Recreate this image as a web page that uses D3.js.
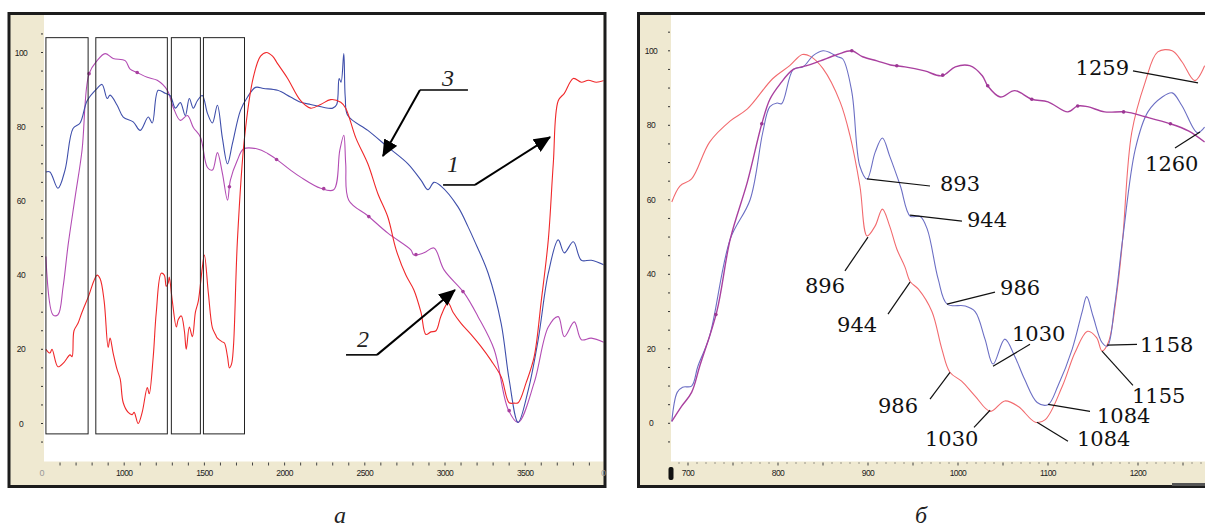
<!DOCTYPE html>
<html>
<head>
<meta charset="utf-8">
<script src="https://cdn.jsdelivr.net/npm/d3@7"></script>
<style>
body { margin: 0; background: #fff; }
svg { display: block; }
</style>
</head>
<body>
<svg id="chart" width="1205" height="529"></svg>
<script>
// ---- panel a: full spectra, wavenumber vs transmission ----
const curve1a = [[512,20],[537,19],[550,20],[587,15.3],[625,16.5],[662,18.5],[675,18],[687,25],[712,27],[737,30],[775,34],[831,40],[850,39],[875,33],[900,20.5],[912,23],[931,19],[956,14.5],[975,12],[994,5.6],[1025,3],[1050,2.4],[1062,3],[1087,0],[1112,3],[1144,9.7],[1156,8],[1181,18],[1200,30],[1231,40.5],[1250,40],[1262,37],[1275,38],[1281,39.5],[1300,33],[1325,26],[1337,28],[1356,29],[1375,25],[1387,20],[1406,26],[1425,23.4],[1444,30],[1462,33],[1487,42],[1500,45.4],[1525,35],[1550,25.8],[1569,24],[1581,23],[1612,22],[1625,21.7],[1644,18],[1656,15],[1669,16],[1681,20.7],[1706,49.5],[1750,77],[1806,93.5],[1850,99],[1887,100],[1925,99],[1956,97],[2019,93],[2100,87],[2162,85],[2225,86],[2287,87.3],[2350,86.6],[2381,85],[2444,77],[2519,70],[2581,62],[2644,55.6],[2694,47],[2756,40],[2806,36],[2850,30],[2881,24],[2912,24.7],[2944,25],[2975,29],[3019,32.5],[3050,30],[3100,27],[3162,24],[3225,20.7],[3287,17],[3350,12.6],[3400,5.6],[3431,5.5],[3456,5.6],[3506,11],[3556,18],[3600,33],[3644,49.5],[3675,70],[3706,87],[3744,89],[3800,93],[3850,92],[3894,92.5],[3944,92],[3994,92.5]];

const curve2a = [[512,45],[556,29.3],[587,29.3],[619,36.8],[650,48],[694,61],[737,73.6],[781,94.3],[831,97.8],[881,99.7],[931,98.4],[1006,97.8],[1037,95.5],[1081,94.6],[1144,93.3],[1206,92.5],[1269,89.8],[1306,85.2],[1350,81.7],[1394,83],[1431,79.8],[1475,77.2],[1519,69],[1550,68.3],[1581,73],[1612,67.5],[1644,60.2],[1662,65.6],[1706,71],[1744,74],[1831,74],[1894,72.8],[1956,71],[2037,68.3],[2100,66.4],[2225,63.4],[2306,63],[2344,73.6],[2369,77.7],[2381,70],[2400,60.2],[2519,56],[2644,51.3],[2787,46.8],[2806,45.4],[2869,46],[2931,47.3],[2994,41.4],[3119,35.2],[3206,28.8],[3306,20],[3394,3.8],[3456,0.3],[3556,11],[3644,26],[3706,28.8],[3744,23.4],[3806,27.4],[3850,22.6],[3912,23],[3994,21.8]];

const curve3a = [[512,67.8],[537,67.8],[587,63.4],[631,68.3],[681,79.5],[725,81],[769,87],[831,90.3],[862,91.4],[894,87.6],[912,88.5],[956,85.8],[994,82.6],[1056,81.3],[1100,79],[1150,82.6],[1175,81],[1212,89.8],[1256,89],[1287,88.4],[1319,85],[1350,86.5],[1381,83],[1406,87.6],[1431,85],[1456,87],[1487,88.4],[1519,83.6],[1550,81],[1581,85.8],[1612,77],[1644,70],[1675,75.5],[1725,84.4],[1769,88],[1819,90.6],[1869,90.3],[1956,89.8],[2037,88],[2100,86.6],[2162,86],[2300,85],[2325,86],[2340,93],[2352,92],[2369,99.7],[2378,88],[2394,83],[2519,79],[2644,74.5],[2769,70],[2850,65.6],[2894,63],[2931,65],[2975,64],[3081,58.4],[3144,53],[3181,49.5],[3269,40.5],[3350,27],[3400,11.8],[3456,0.3],[3519,9],[3581,22.6],[3644,40.5],[3706,49.5],[3744,46],[3800,49],[3850,44],[3912,44],[3994,42.7]];

const markers2a = [781, 1081, 1656, 1950, 2244, 2525, 2819, 3112, 3400];
const boxesA = [[512, 775], [823, 1269], [1294, 1475], [1494, 1750]];
const boxRangeA = [-2.8, 104];
const xTickLabelsA = [1000, 1500, 2000, 2500, 3000, 3500];
const yTickLabels = [0, 20, 40, 60, 80, 100];

// callouts for panel a: text, text position, shelf, arrow tip (data units)
const calloutsA = [
  { t: "3", tx: 3019, ty: 91, s: [2844, 3143, 89.9], from: [2844, 89.9], tip: [2613, 72.1] },
  { t: "1", tx: 3050, ty: 67.8, s: [2988, 3187, 64.3], from: [3187, 64.3], tip: [3655, 77.2] },
  { t: "2", tx: 2489, ty: 20.6, s: [2383, 2576, 18.5], from: [2576, 18.5], tip: [3062, 36] }
];

// ---- panel b: 680-1275 detail ----
const curve1b = [[682,59.4],[691,63.7],[704,65.6],[724,75.5],[747,81.2],[766,84.4],[794,92.5],[813,96],[827,99],[836,98.5],[850,95.2],[869,86.3],[880,77.2],[891,63.7],[899,50.3],[908,53],[916,57.5],[924,53],[932,46.8],[941,42],[947,38],[956,36],[971,30],[982,20],[991,13.7],[1004,11.3],[1019,7.3],[1036,3.2],[1052,6],[1067,4.5],[1086,0.3],[1097,1],[1116,10],[1130,19],[1144,24.7],[1154,23],[1160,19.4],[1167,21.7],[1177,36],[1183,49.5],[1193,78],[1208,91.6],[1222,99.7],[1238,100],[1249,97],[1263,92],[1274,96]];

const curve2b = [[682,0.5],[693,4.6],[704,8.3],[713,15.3],[732,30],[747,49.5],[766,64.8],[782,80.4],[791,87],[802,91],[817,95],[832,96],[847,97.3],[866,99],[882,100],[894,98.4],[910,97.3],[925,96.2],[941,95.7],[963,94.6],[982,93.3],[997,95.7],[1013,96],[1027,93.3],[1033,90.6],[1047,87.6],[1063,89.3],[1082,87],[1100,86.3],[1122,83.6],[1133,85.2],[1144,85],[1163,83.6],[1186,83.6],[1208,82.3],[1236,80.4],[1256,78.5],[1274,75.5]];

const curve3b = [[682,0.5],[688,8.3],[694,9.7],[704,10],[711,15.3],[724,23.4],[747,49.5],[769,60],[783,78],[791,85],[799,86],[804,85.8],[817,95],[828,95.7],[839,98.7],[850,100],[858,99.5],[866,98.4],[872,97.8],[882,89],[891,69],[899,65.6],[908,72.8],[916,76.6],[924,71.8],[936,63.7],[947,55.6],[958,55.5],[966,52],[978,38.7],[988,32],[1008,31.5],[1019,30],[1030,22.6],[1039,15.9],[1052,22.6],[1063,18],[1074,11.8],[1088,5.6],[1100,5],[1111,10],[1127,20],[1138,30],[1143,34],[1150,28.8],[1160,21.7],[1166,20.7],[1174,31.5],[1183,49.5],[1197,73.6],[1211,83.6],[1227,87.6],[1238,88.7],[1249,85.2],[1266,78],[1274,79.5]];

const markers2b = [731, 782, 882, 932, 983, 1033, 1082, 1133, 1184, 1236];
const xTickLabelsB = [700, 800, 900, 1000, 1100, 1200];

// peak labels: point on curve, leader end, text anchor (data units)
const peaksB = [
  { t: "1259", p: [1266.7, 91.4], l: [1194.4, 94.6], tp: [1190, 93.5], a: "end" },
  { t: "1260", p: [1268.9, 78.2], l: [1241.1, 73.9], tp: [1207.8, 67.7], a: "start" },
  { t: "893", p: [898.9, 65.6], l: [968.9, 63.7], tp: [980, 62.4], a: "start" },
  { t: "944", p: [946.7, 55.9], l: [1004.4, 54.3], tp: [1010, 52.7], a: "start" },
  { t: "896", p: [900, 50], l: [874.4, 40.9], tp: [830, 34.9], a: "start" },
  { t: "944", p: [946.7, 37.9], l: [922.2, 29.3], tp: [865.6, 24.5], a: "start" },
  { t: "986", p: [987.8, 32], l: [1041.1, 35.2], tp: [1046.7, 34.4], a: "start" },
  { t: "1030", p: [1038.9, 15.3], l: [1080, 21.2], tp: [1060, 22], a: "start" },
  { t: "1158", p: [1165.6, 21], l: [1198.9, 21.2], tp: [1202.2, 19.1], a: "start" },
  { t: "1155", p: [1160, 19.4], l: [1194.4, 10.2], tp: [1193.3, 5.4], a: "start" },
  { t: "1084", p: [1100, 5.1], l: [1146.7, 3.2], tp: [1154.4, 0], a: "start" },
  { t: "1084", p: [1087.8, 0.3], l: [1122.2, -4.8], tp: [1132.2, -6.2], a: "start" },
  { t: "1030", p: [1035.6, 3.5], l: [1017.8, -1.1], tp: [963.3, -6.2], a: "start" },
  { t: "986", p: [991.1, 13.7], l: [968.9, 6.5], tp: [911.1, 2.7], a: "start" }
];

const beige = "#efe9d1";
const svg = d3.select("#chart");

// helper: y on a curve for a given x (for the little dots on curve 2)
function valueAt(data, x) {
  const i = d3.bisector(d => d[0]).left(data, x);
  if (i <= 0) return data[0][1];
  if (i >= data.length) return data[data.length - 1][1];
  const a = data[i - 1], b = data[i];
  return a[1] + (b[1] - a[1]) * (x - a[0]) / (b[0] - a[0]);
}

// arrowhead marker
svg.append("defs").append("marker")
  .attr("id", "head")
  .attr("markerUnits", "userSpaceOnUse")
  .attr("viewBox", "0 0 16 14")
  .attr("refX", 15).attr("refY", 7)
  .attr("markerWidth", 17).attr("markerHeight", 15)
  .attr("orient", "auto")
  .append("path").attr("d", "M0,0 L16,7 L0,14 Z").attr("fill", "#000");

function panel(opt) {
  const g = svg.append("g");
  const f = opt.frame;
  // beige background + white plot area
  g.append("rect").attr("x", f[0]).attr("y", f[1]).attr("width", f[2] - f[0]).attr("height", f[3] - f[1]).attr("fill", beige);
  g.append("rect").attr("x", opt.plot[0]).attr("y", opt.plot[1])
    .attr("width", opt.plot[2] - opt.plot[0]).attr("height", opt.plot[3] - opt.plot[1]).attr("fill", "#fff");

  const clipId = "clip" + opt.id;
  svg.select("defs").append("clipPath").attr("id", clipId)
    .append("rect").attr("x", opt.plot[0]).attr("y", opt.plot[1])
    .attr("width", opt.plot[2] - opt.plot[0]).attr("height", opt.plot[3] - opt.plot[1]);

  const x = opt.x, y = opt.y;

  // y ticks every 5, labels every 20
  const yt = g.append("g");
  yt.selectAll("line").data(d3.range(-5, 106, 5)).enter().append("line")
    .attr("x1", opt.plot[0] - 3).attr("x2", opt.plot[0] - 1)
    .attr("y1", d => y(d)).attr("y2", d => y(d))
    .attr("stroke", "#333").attr("stroke-width", 1);
  yt.selectAll("text").data(yTickLabels).enter().append("text")
    .attr("x", opt.ylabX).attr("y", d => y(d) + 3)
    .attr("text-anchor", "middle")
    .attr("font-family", "Liberation Sans, Arial, sans-serif")
    .attr("font-size", 8.5).attr("letter-spacing", -0.6)
    .attr("fill", "#222").text(d => d);

  // x ticks
  const xt = g.append("g");
  xt.selectAll("line").data(opt.xMinor).enter().append("line")
    .attr("x1", d => x(d)).attr("x2", d => x(d))
    .attr("y1", opt.plot[3] + 1).attr("y2", d => opt.plot[3] + opt.tickLen(d))
    .attr("stroke", "#444").attr("stroke-width", 1);
  xt.selectAll("text").data(opt.xLabels).enter().append("text")
    .attr("x", d => x(d)).attr("y", opt.plot[3] + 14)
    .attr("text-anchor", "middle")
    .attr("font-family", "Liberation Sans, Arial, sans-serif")
    .attr("font-size", 8.5).attr("letter-spacing", -0.6)
    .attr("fill", "#222").text(d => d);

  const plotG = g.append("g").attr("clip-path", "url(#" + clipId + ")");
  const line = d3.line().x(d => x(d[0])).y(d => y(d[1])).curve(opt.curve);
  opt.series.forEach(s => {
    plotG.append("path").datum(s.data)
      .attr("d", line).attr("fill", "none")
      .attr("stroke", s.color).attr("stroke-width", s.w || 1.1)
      .attr("stroke-linejoin", "round");
  });
  plotG.selectAll("circle.mk").data(opt.markers).enter().append("circle")
    .attr("cx", d => x(d)).attr("cy", d => y(valueAt(opt.markerCurve, d)))
    .attr("r", 1.8).attr("fill", opt.markerColor);

  // frame
  g.append("rect").attr("x", f[0]).attr("y", f[1]).attr("width", f[2] - f[0]).attr("height", f[3] - f[1])
    .attr("fill", "none").attr("stroke", "#1c1c1c").attr("stroke-width", 3);
  return { g: g, plotG: plotG, x: x, y: y };
}

// ---------- panel a ----------
const xa = d3.scaleLinear().domain([500, 4000]).range([44, 605.4]);
const ya = d3.scaleLinear().domain([0, 100]).range([423.5, 52.5]);
const pa = panel({
  id: "a", frame: [9, 13.5, 605, 486.5], plot: [44, 15, 603.5, 461.5],
  x: xa, y: ya, ylabX: 21,
  xMinor: d3.range(600, 4000, 100), xLabels: xTickLabelsA,
  tickLen: () => 4,
  curve: d3.curveCatmullRom.alpha(0.5),
  series: [
    { data: curve2a, color: "#b34db4" },
    { data: curve3a, color: "#3f4fab" },
    { data: curve1a, color: "#f0282a" }
  ],
  markers: markers2a, markerCurve: curve2a, markerColor: "#a8409f"
});
// end labels "0" on the x scale
pa.g.selectAll("text.end").data([500, 4000]).enter().append("text")
  .attr("x", d => xa(d) - 2).attr("y", 475.5).attr("text-anchor", "middle")
  .attr("font-family", "Liberation Sans, Arial, sans-serif").attr("font-size", 9)
  .attr("fill", "#999").text("0");

// rectangles marking regions
pa.plotG.selectAll("rect.box").data(boxesA).enter().append("rect")
  .attr("x", d => xa(d[0])).attr("y", ya(boxRangeA[1]))
  .attr("width", d => xa(d[1]) - xa(d[0])).attr("height", ya(boxRangeA[0]) - ya(boxRangeA[1]))
  .attr("fill", "none").attr("stroke", "#222").attr("stroke-width", 1);

// numbered callouts with arrows
calloutsA.forEach(c => {
  pa.g.append("line").attr("x1", xa(c.s[0])).attr("x2", xa(c.s[1]))
    .attr("y1", ya(c.s[2])).attr("y2", ya(c.s[2])).attr("stroke", "#000").attr("stroke-width", 1.6);
  pa.g.append("line").attr("x1", xa(c.from[0])).attr("y1", ya(c.from[1]))
    .attr("x2", xa(c.tip[0])).attr("y2", ya(c.tip[1]))
    .attr("stroke", "#000").attr("stroke-width", 2).attr("marker-end", "url(#head)");
  pa.g.append("text").attr("x", xa(c.tx)).attr("y", ya(c.ty)).attr("text-anchor", "middle")
    .attr("font-family", "Liberation Serif, Times New Roman, serif").attr("font-style", "italic")
    .attr("font-size", 24).attr("fill", "#222").text(c.t);
});

// ---------- panel b ----------
const xb = d3.scaleLinear().domain([700, 1200]).range([688, 1138]);
const yb = d3.scaleLinear().domain([0, 100]).range([423.3, 50.8]);
const pb = panel({
  id: "b", frame: [638.5, 13.5, 1210, 486.5], plot: [671, 15, 1208, 461.5],
  x: xb, y: yb, ylabX: 651,
  xMinor: d3.range(690, 1280, 10), xLabels: xTickLabelsB,
  tickLen: d => (d % 50 === 0 ? 4 : 2),
  curve: d3.curveCatmullRom.alpha(0.5),
  series: [
    { data: curve1b, color: "#f26b6f" },
    { data: curve3b, color: "#6c6fc4" },
    { data: curve2b, color: "#a9409f", w: 1.4 }
  ],
  markers: markers2b, markerCurve: curve2b, markerColor: "#9c3794"
});
// small black handle at the left of the x scale, dark bar bottom-right
pb.g.append("rect").attr("x", 668.5).attr("y", 467).attr("width", 5).attr("height", 13).attr("rx", 2).attr("fill", "#111");
pb.g.append("rect").attr("x", 1172).attr("y", 483).attr("width", 40).attr("height", 3).attr("fill", "#555");

// peak labels with leader lines
const pk = pb.g.append("g");
pk.selectAll("line").data(peaksB).enter().append("line")
  .attr("x1", d => xb(d.p[0])).attr("y1", d => yb(d.p[1]))
  .attr("x2", d => xb(d.l[0])).attr("y2", d => yb(d.l[1]))
  .attr("stroke", "#111").attr("stroke-width", 1.2);
pk.selectAll("text").data(peaksB).enter().append("text")
  .attr("x", d => xb(d.tp[0])).attr("y", d => yb(d.tp[1]))
  .attr("text-anchor", d => d.a)
  .attr("font-family", "DejaVu Serif, serif").attr("font-size", 21)
  .attr("fill", "#111").text(d => d.t);

// captions
svg.selectAll("text.cap").data([["а", 340], ["б", 921]]).enter().append("text")
  .attr("x", d => d[1]).attr("y", 523).attr("text-anchor", "middle")
  .attr("font-family", "Liberation Serif, Times New Roman, serif").attr("font-style", "italic")
  .attr("font-size", 24).attr("fill", "#222").text(d => d[0]);
</script>
</body>
</html>
